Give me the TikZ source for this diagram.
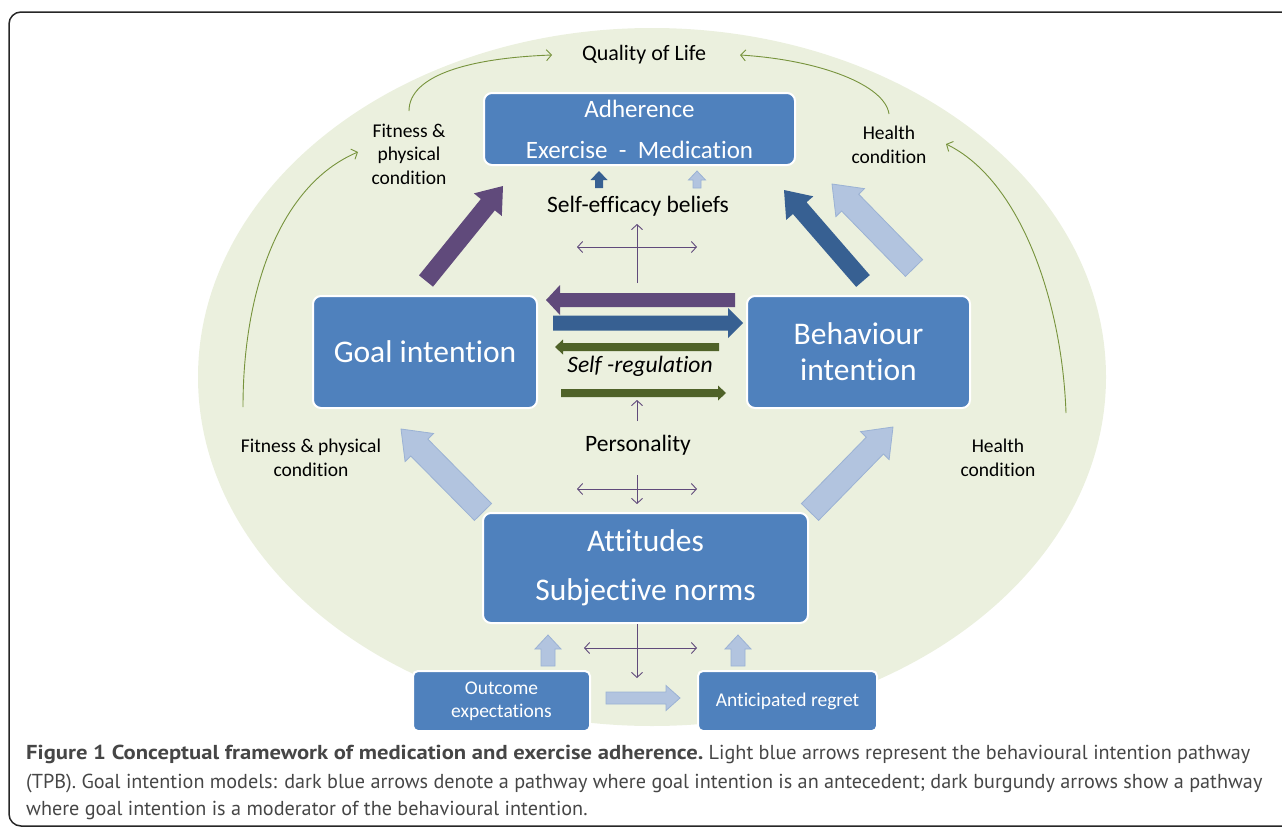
\documentclass[tikz,border=0pt]{standalone}
\usepackage{graphicx}
\usepackage{fontspec}
\setmainfont{Carlito}[Ligatures=NoCommon]
\newfontfamily\capfont{PT Sans}
\usetikzlibrary{calc,arrows.meta}
\definecolor{boxblue}{RGB}{79,129,189}
\definecolor{bggreen}{RGB}{235,240,222}
\definecolor{purp}{RGB}{96,74,123}
\definecolor{dblue}{RGB}{55,96,146}
\definecolor{lblue}{RGB}{178,196,223}
\definecolor{lblueb}{RGB}{155,178,212}
\definecolor{dgreen}{RGB}{79,98,40}
\definecolor{lgreen}{RGB}{119,147,60}
\definecolor{capgray}{RGB}{70,70,70}
\newcommand\blockarr[6]{%
  \path[#1] let \p1=($(#3)-(#2)$), \n1={atan2(\y1,\x1)}, \n2={veclen(\x1,\y1)} in
  ($(#2)+(\n1+90:#4)$) -- ($(#2)+(\n1:{\n2-#6})+(\n1+90:#4)$) -- ($(#2)+(\n1:{\n2-#6})+(\n1+90:#5)$) -- (#3)
  -- ($(#2)+(\n1:{\n2-#6})+(\n1-90:#5)$) -- ($(#2)+(\n1:{\n2-#6})+(\n1-90:#4)$) -- ($(#2)+(\n1-90:#4)$) -- cycle;}
\tikzset{
  box/.style={draw=white, line width=2pt, fill=boxblue, rounded corners=8pt, text=white, align=center, inner sep=0pt},
  lbl/.style={align=center, inner sep=0pt, text=black},
  pline/.style={draw=purp, line width=0.9pt},
  barb/.style={-{Straight Barb[length=5pt,width=11pt]}},
  dbarb/.style={{Straight Barb[length=5pt,width=11pt]}-{Straight Barb[length=5pt,width=11pt]}},
  gcurve/.style={draw=lgreen, line width=0.9pt, -{Straight Barb[length=5pt,width=11pt]}},
  fpurp/.style={fill=purp},
  fdblue/.style={fill=dblue},
  flblue/.style={fill=lblue, draw=lblueb, line width=0.8pt},
  fgreen/.style={fill=dgreen},
  capline/.style={anchor=base west, inner sep=0pt, font=\capfont\fontsize{20.2}{24}\selectfont, text=capgray}
}
\begin{document}
\begin{tikzpicture}[x=1pt,y=-1pt]
\useasboundingbox (0,0) rectangle (1282,827);
\draw[line width=1.5pt, black!85, rounded corners=12pt] (9,12) rectangle (1320,826);
\fill[bggreen] (652,377) ellipse [x radius=454pt, y radius=349pt];

% boxes
\node[box, minimum width=311pt, minimum height=72pt, font=\fontsize{25}{41}\selectfont] (adh) at (639.5,129) {Adherence\\Exercise\ \ -\ \ Medication};
\node[box, minimum width=224pt, minimum height=112pt, font=\fontsize{31.5}{36}\selectfont] (goal) at (425,352) {Goal intention};
\node[box, minimum width=223pt, minimum height=112pt, font=\fontsize{31.5}{36}\selectfont] (beh) at (858.5,352) {Behaviour\\intention};
\node[box, minimum width=325pt, minimum height=110pt, font=\fontsize{31.5}{49}\selectfont] (att) at (645.5,568) {Attitudes\\Subjective norms};
\node[box, rounded corners=5pt, minimum width=177pt, minimum height=60pt, font=\fontsize{19.5}{23}\selectfont] (outc) at (501.5,701) {Outcome\\expectations};
\node[box, rounded corners=5pt, minimum width=179pt, minimum height=60pt, font=\fontsize{19.5}{23}\selectfont] (reg) at (787.5,701) {Anticipated regret};

% labels
\node[lbl, font=\fontsize{22}{26}\selectfont] (qol) at (644,55) {Quality of Life};
\node[lbl, font=\fontsize{19.5}{23.5}\selectfont] (fit1) at (409,154) {Fitness \&\\physical\\condition};
\node[lbl, font=\fontsize{19.5}{23.5}\selectfont] (hea1) at (889,145) {Health\\condition};
\node[lbl, font=\fontsize{23.5}{28}\selectfont] (seb) at (638,206) {Self-efficacy beliefs};
\node[lbl, font=\fontsize{23.5}{28}\selectfont\itshape] (sreg) at (640,366) {Self -regulation};
\node[lbl, font=\fontsize{23.5}{28}\selectfont] (pers) at (638,445) {Personality};
\node[lbl, font=\fontsize{19.5}{23.5}\selectfont] (fit2) at (311,458) {Fitness \& physical\\condition};
\node[lbl, font=\fontsize{19.5}{23.5}\selectfont] (hea2) at (998,458) {Health\\condition};

% coordinates for arrows
\coordinate (a1t) at (426,281); \coordinate (a1h) at (503,186);
\coordinate (a2t) at (863,281); \coordinate (a2h) at (784,190);
\coordinate (a3t) at (914,268); \coordinate (a3h) at (832,184);
\coordinate (a4t) at (483,512); \coordinate (a4h) at (401,429);
\coordinate (a5t) at (810,512); \coordinate (a5h) at (893,427);
\coordinate (h1t) at (735,300); \coordinate (h1h) at (546,300);
\coordinate (h2t) at (553,323); \coordinate (h2h) at (743,323);
\coordinate (h3t) at (719,347); \coordinate (h3h) at (555,347);
\coordinate (h4t) at (561,393); \coordinate (h4h) at (726,393);
\coordinate (s1t) at (599,188); \coordinate (s1h) at (599,171);
\coordinate (s2t) at (697,188); \coordinate (s2h) at (697,171);
\coordinate (b1t) at (548,666); \coordinate (b1h) at (548,635);
\coordinate (b2t) at (738,666); \coordinate (b2h) at (738,635);
\coordinate (b3t) at (606,698); \coordinate (b3h) at (680,698);

% block arrows
\blockarr{fpurp}{a1t}{a1h}{9pt}{18pt}{24pt}
\blockarr{fdblue}{a2t}{a2h}{9pt}{18pt}{24pt}
\blockarr{flblue}{a3t}{a3h}{12pt}{20pt}{26pt}
\blockarr{flblue}{a4t}{a4h}{12pt}{20pt}{26pt}
\blockarr{flblue}{a5t}{a5h}{12pt}{20pt}{26pt}
\blockarr{fpurp}{h1t}{h1h}{7pt}{15pt}{14pt}
\blockarr{fdblue}{h2t}{h2h}{7.5pt}{15pt}{15pt}
\blockarr{fgreen}{h3t}{h3h}{4pt}{7.5pt}{8pt}
\blockarr{fgreen}{h4t}{h4h}{4pt}{7.5pt}{8pt}
\blockarr{fdblue}{s1t}{s1h}{4pt}{8.5pt}{9pt}
\blockarr{flblue}{s2t}{s2h}{4pt}{8.5pt}{9pt}
\blockarr{flblue}{b1t}{b1h}{7pt}{13pt}{14pt}
\blockarr{flblue}{b2t}{b2h}{7pt}{13pt}{14pt}
\blockarr{flblue}{b3t}{b3h}{6pt}{12.5pt}{14pt}

% thin purple arrows
\coordinate (c1b) at (637,283); \coordinate (c1t) at (637,224);
\coordinate (c1l) at (577,247); \coordinate (c1r) at (697,247);
\coordinate (c2b) at (637,421); \coordinate (c2t) at (637,400);
\coordinate (c3t) at (637,475); \coordinate (c3b) at (637,504);
\coordinate (c3l) at (577,489); \coordinate (c3r) at (697,489);
\coordinate (c4b) at (637,678);
\coordinate (c4l) at (584,648); \coordinate (c4r) at (697,648);
\draw[pline, barb] (c1b) -- (c1t);
\draw[pline, dbarb] (c1l) -- (c1r);
\draw[pline, barb] (c2b) -- (c2t);
\draw[pline, barb] (c3t) -- (c3b);
\draw[pline, dbarb] (c3l) -- (c3r);
\draw[pline, barb] (att.south -| c4b) -- (c4b);
\draw[pline, dbarb] (c4l) -- (c4r);

% green curves
\coordinate (g1s) at (243,407); \coordinate (g1e) at (358,152);
\coordinate (g2s) at (409,111); \coordinate (g2e) at (552,55);
\coordinate (g3s) at (889,114); \coordinate (g3e) at (740,55);
\coordinate (g4s) at (1066,413); \coordinate (g4e) at (946,144);
\draw[gcurve] (g1s) .. controls (243,290) and (280,185) .. (g1e);
\draw[gcurve] (g2s) .. controls (409,75) and (470,58) .. (g2e);
\draw[gcurve] (g3s) .. controls (885,85) and (820,60) .. (g3e);
\draw[gcurve] (g4s) .. controls (1062,300) and (1020,180) .. (g4e);

% caption
\node[capline] (cap1) at (26,759) {\scalebox{1.12}[1]{\bfseries Figure 1 Conceptual framework of medication and exercise adherence.} Light blue arrows represent the behavioural intention pathway};
\node[capline] (cap2) at (26,788) {(TPB). Goal intention models: dark blue arrows denote a pathway where goal intention is an antecedent; dark burgundy arrows show a pathway};
\node[capline] (cap3) at (26,815) {where goal intention is a moderator of the behavioural intention.};
\end{tikzpicture}
\end{document}
